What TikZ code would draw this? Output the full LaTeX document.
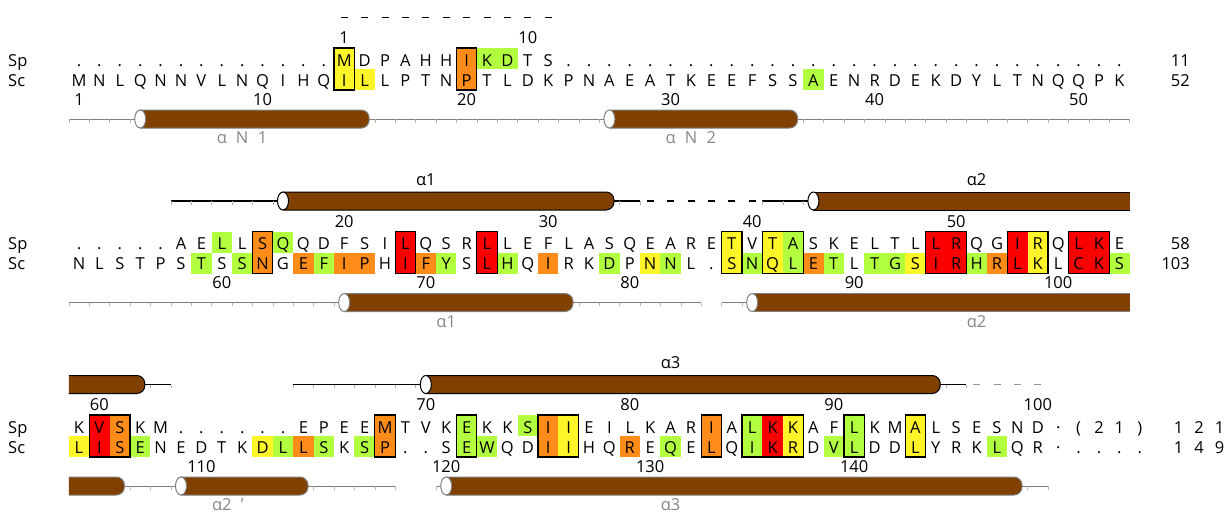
\documentclass[tikz,border=0pt]{standalone}
\usepackage{fontspec}
\setmainfont{Open Sans}

\definecolor{hy}{RGB}{255,245,40}
\definecolor{ho}{RGB}{255,140,25}
\definecolor{hg}{RGB}{178,255,64}
\definecolor{hr}{RGB}{250,0,0}
\definecolor{brn}{RGB}{128,64,0}
\definecolor{trackgray}{RGB}{128,128,128}
\definecolor{labgray}{RGB}{136,136,136}
\definecolor{dashgray}{RGB}{150,150,150}

\newcommand\resfont{\fontsize{16.5}{19}\selectfont}

% one residue row: baseline y, node prefix, residues
\newcommand\resrow[3]{\foreach \c [count=\i] in {#3}{\node[res] (#2\i) at ({79+20.4*(\i-1)},#1) {\c};}}
% residue numbers: baseline y, node prefix, column/number pairs
\newcommand\numrow[3]{\foreach \k/\n in {#3}{\node[res] (#2\n) at ({79+20.4*(\k-1)},#1) {\n};}}
% coloured cells: Sp baseline y, column/row/colour (row 0 = Sp, 1 = Sc)
\newcommand\cellfill[2]{\foreach \k/\r/\cc in {#2}{%
  \pgfmathsetmacro\xx{79+20.4*(\k-1)}%
  \fill[\cc] ({\xx-10.2},{#1-18+21*\r}) rectangle ({\xx+10.2},{#1+3+21*\r});}}
% framed conserved columns: Sp baseline y, first/last column
\newcommand\cellbox[2]{\foreach \a/\b in {#2}{%
  \pgfmathsetmacro\xa{79+20.4*(\a-1)-10.2}%
  \pgfmathsetmacro\xb{79+20.4*(\b-1)+10.2}%
  \draw[hlbox] (\xa,#1-18) rectangle (\xb,#1+24);}}
% column ticks along a structure track
\newcommand\sstick[2]{\foreach \k in {#2}{\draw[colticks] ({68.8+20.4*\k},#1) -- ++(0,3.5);}}
% disordered stretch: one short dash per column
\newcommand\ssdash[3]{\foreach \k in {#2}{\draw[#3] ({79+20.4*(\k-1)-3.5},#1) -- ++(7,0);}}
% helix with open end on the left and rounded end on the right
\newcommand\hxbody[4]{%
  \path[fill=brn, draw=#4, line width=1pt, rounded corners=8pt]
    (#2,#1-9) -- (#3,#1-9) -- (#3,#1+9) -- (#2,#1+9);}
% helix with cap on the left and rounded end on the right
\newcommand\hxcap[4]{%
  \hxbody{#1}{#2}{#3}{#4}%
  \draw[fill=white, draw=#4, line width=1pt] (#2,#1) ellipse [x radius=5.5, y radius=9];}
% helix with cap on the left, running off the right edge
\newcommand\hxflat[4]{%
  \fill[brn] (#2,#1-9) rectangle (#3,#1+9);
  \draw[draw=#4, line width=1pt] (#3,#1-9) -- (#2,#1-9) (#2,#1+9) -- (#3,#1+9);
  \draw[fill=white, draw=#4, line width=1pt] (#2,#1) ellipse [x radius=5.5, y radius=9];}

\tikzset{
  res/.style={anchor=base, inner sep=0pt, font=\resfont},
  sslab/.style={anchor=base, inner sep=0pt, font=\resfont, text=labgray},
  spline/.style={line width=1.1pt, draw=black},
  scline/.style={line width=1pt, draw=trackgray},
  colticks/.style={line width=0.5pt, draw=black!30},
  hlbox/.style={draw=black, line width=1.1pt},
}

\begin{document}
\begin{tikzpicture}[x=1pt, y=-1pt]
\useasboundingbox (0,0) rectangle (1232,512);
\fill[white] (0,0) rectangle (1232,512);

%% ---------------- block 1 (Sp 1-11, Sc 1-52) ----------------
\ssdash{17.5}{14,...,24}{spline}
\cellfill{66}{14/0/hy, 14/1/hy, 15/1/hy, 20/0/ho, 20/1/ho, 21/0/hg, 22/0/hg, 37/1/hg}
\node[res, anchor=base west] (sp1) at (8,66) {Sp};
\node[res, anchor=base west] (sc1) at (8,86) {Sc};
\resrow{66}{ap}{.,.,.,.,.,.,.,.,.,.,.,.,.,M,D,P,A,H,H,I,K,D,T,S,.,.,.,.,.,.,.,.,.,.,.,.,.,.,.,.,.,.,.,.,.,.,.,.,.,.,.,.}
\resrow{86}{ac}{M,N,L,Q,N,N,V,L,N,Q,I,H,Q,I,L,L,P,T,N,P,T,L,D,K,P,N,A,E,A,T,K,E,E,F,S,S,A,E,N,R,D,E,K,D,Y,L,T,N,Q,Q,P,K}
\cellbox{66}{14/14, 20/20}
\numrow{43.5}{anp}{14/1, 23/10}
\numrow{105}{anc}{1/1, 10/10, 20/20, 30/30, 40/40, 50/50}
\node[res, anchor=base east] (ae1) at (1190,66) {11};
\node[res, anchor=base east] (ae2) at (1190,86) {52};
% Sc structure
\draw[scline] (68.8,119) -- (1129.6,119);
\sstick{119}{0,...,52}
\hxcap{119}{140.2}{369.2}{trackgray}
\hxcap{119}{609.4}{797.6}{trackgray}
\foreach \k/\t in {8/α, 9/N, 10/1}{\node[sslab] (aln\k) at ({79+20.4*(\k-1)},143) {\t};}
\foreach \k/\t in {30/α, 31/N, 32/2}{\node[sslab] (alm\k) at ({79+20.4*(\k-1)},143) {\t};}

%% ---------------- block 2 (Sp 12-58, Sc 53-103) ----------------
% Sp structure
\draw[spline] (170.8,201) -- (640,201);
\ssdash{201}{29,...,34}{spline}
\draw[spline] (762.4,201) -- (813.4,201);
\sstick{201}{5,...,28}
\sstick{201}{34,...,52}
\hxcap{201}{283}{614}{black}
\hxflat{201}{813.4}{1129.6}{black}
\node[res] (bh1) at (425.8,185) {α1};
\node[res] (bh2) at (976.6,185) {α2};
\cellfill{249.5}{7/1/hg, 8/0/hg, 9/1/hg, 10/0/ho, 10/1/ho, 11/0/hg, 12/1/ho, 13/1/hg, 14/1/ho, 15/1/ho,
  17/0/hr, 17/1/hr, 18/1/ho, 19/1/hg, 21/0/hr, 21/1/hr, 22/1/hg, 24/1/ho, 27/1/hg, 29/1/hy, 30/1/hg,
  33/0/hy, 33/1/hy, 34/1/hg, 35/0/hy, 35/1/hy, 36/0/hg, 36/1/hg, 37/1/ho, 38/1/hg, 40/1/hg, 41/1/hg,
  42/1/hy, 43/0/hr, 43/1/hr, 44/0/hr, 44/1/hr, 45/1/hg, 46/1/ho, 47/0/hr, 47/1/hr, 48/0/hy, 48/1/hy,
  50/0/hr, 50/1/hr, 51/0/hr, 51/1/hr, 52/1/hg}
\node[res, anchor=base west] (sp2) at (8,249.5) {Sp};
\node[res, anchor=base west] (sc2) at (8,269.5) {Sc};
\resrow{249.5}{bp}{.,.,.,.,.,A,E,L,L,S,Q,Q,D,F,S,I,L,Q,S,R,L,L,E,F,L,A,S,Q,E,A,R,E,T,V,T,A,S,K,E,L,T,L,L,R,Q,G,I,R,Q,L,K,E}
\resrow{269.5}{bc}{N,L,S,T,P,S,T,S,S,N,G,E,F,I,P,H,I,F,Y,S,L,H,Q,I,R,K,D,P,N,N,L,.,S,N,Q,L,E,T,L,T,G,S,I,R,H,R,L,K,L,C,K,S}
\cellbox{249.5}{10/10, 17/17, 21/21, 33/33, 35/36, 43/44, 47/48, 50/51}
\numrow{227.5}{bnp}{14/20, 24/30, 34/40, 44/50}
\numrow{288.5}{bnc}{8/60, 18/70, 28/80, 39/90, 49/100}
\node[res, anchor=base east] (be1) at (1190,249.5) {58};
\node[res, anchor=base east] (be2) at (1190,269.5) {103};
% Sc structure
\draw[scline] (68.8,302.5) -- (701.2,302.5);
\draw[scline] (721.6,302.5) -- (1129.6,302.5);
\sstick{302.5}{0,...,31}
\sstick{302.5}{32,...,52}
\hxcap{302.5}{344.2}{573}{trackgray}
\hxflat{302.5}{752.2}{1129.6}{trackgray}
\node[sslab] (bl1) at (446.2,327.5) {α1};
\node[sslab] (bl2) at (976.6,327.5) {α2};

%% ---------------- block 3 (Sp 59-121, Sc 104-149) ----------------
% Sp structure
\draw[spline] (140,384.5) -- (170.8,384.5);
\draw[spline] (293.2,384.5) -- (966.4,384.5);
\ssdash{384.5}{45,...,48}{line width=1.1pt, draw=dashgray}
\sstick{384.5}{0,...,5}
\sstick{384.5}{11,...,44}
\hxbody{384.5}{68.8}{144.8}{black}
\hxcap{384.5}{425.8}{940.2}{black}
\node[res] (ch3) at (670.6,368.5) {α3};
\cellfill{433}{1/1/hy, 2/0/hr, 2/1/hr, 3/0/ho, 3/1/ho, 4/1/hg, 10/1/hy, 11/1/hg, 12/1/ho, 13/1/hg, 15/1/hg,
  16/0/ho, 16/1/ho, 20/0/hg, 20/1/hg, 21/1/hg, 23/0/hg, 24/0/ho, 24/1/ho, 25/0/hy, 25/1/hy, 28/1/ho,
  30/1/hg, 32/0/ho, 32/1/ho, 34/0/hg, 34/1/hg, 35/0/hr, 35/1/hr, 36/0/hy, 36/1/hy, 38/1/hg, 39/0/hg,
  39/1/hg, 42/0/hy, 42/1/hy, 46/1/hg}
\node[res, anchor=base west] (sp3) at (8,433) {Sp};
\node[res, anchor=base west] (sc3) at (8,453) {Sc};
\resrow{433}{cp}{K,V,S,K,M,.,.,.,.,.,.,E,P,E,E,M,T,V,K,E,K,K,S,I,I,E,I,L,K,A,R,I,A,L,K,K,A,F,L,K,M,A,L,S,E,S,N,D,·}
\resrow{453}{cc}{L,I,S,E,N,E,D,T,K,D,L,L,S,K,S,P,.,.,S,E,W,Q,D,I,I,H,Q,R,E,Q,E,L,Q,I,K,R,D,V,L,D,D,L,Y,R,K,L,Q,R,·,.,.,.,.}
\cellbox{433}{2/3, 16/16, 20/20, 24/25, 32/32, 34/36, 39/39, 42/42}
\node[res] (cpo) at (1078.6,433) {(};
\node[res] (cp21a) at (1099,433) {2};
\node[res] (cp21b) at (1119.4,433) {1};
\node[res] (cpc) at (1139.8,433) {)};
\node[res] (ce1) at (1178.5,433) {1};
\node[res] (ce2) at (1199,433) {2};
\node[res] (ce3) at (1219.5,433) {1};
\node[res] (cf1) at (1178.5,453) {1};
\node[res] (cf2) at (1199,453) {4};
\node[res] (cf3) at (1219.5,453) {9};
\numrow{410.5}{cnp}{2/60, 18/70, 28/80, 38/90, 48/100}
\numrow{472}{cnc}{7/110, 19/120, 29/130, 39/140}
% Sc structure
\draw[scline] (120,486) -- (395.2,486);
\draw[scline] (436,486) -- (1048,486);
\sstick{486}{0,...,16}
\sstick{486}{18,...,48}
\hxbody{486}{68.8}{124.4}{trackgray}
\hxcap{486}{181}{308}{trackgray}
\hxcap{486}{446.2}{1022}{trackgray}
\node[sslab] (cl2) at (221.8,510) {α2};
\node[sslab] (cl2p) at (242.2,510) {'};
\node[sslab] (cl3) at (670.6,510) {α3};
\end{tikzpicture}
\end{document}
